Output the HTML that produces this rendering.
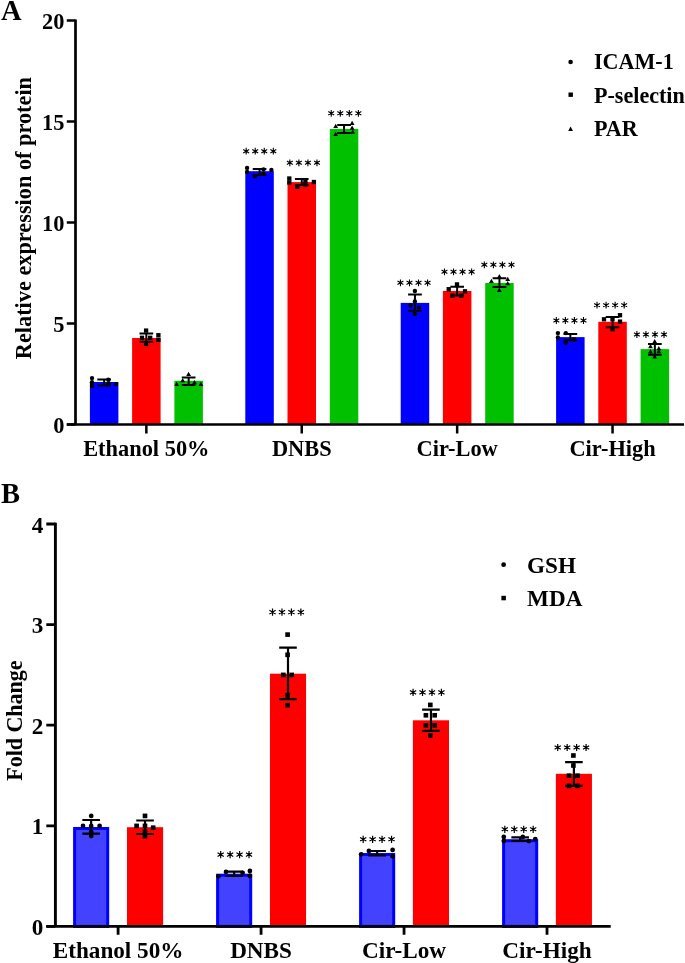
<!DOCTYPE html>
<html><head><meta charset="utf-8"><style>
html,body{margin:0;padding:0;background:#fff;}
svg{display:block;will-change:transform;}
</style></head><body>
<svg width="685" height="963" viewBox="0 0 685 963">
<rect width="685" height="963" fill="#fff"/>
<rect x="89.90" y="382.00" width="28.5" height="42.50" fill="#0000ff"/>
<rect x="132.10" y="338.00" width="28.5" height="86.50" fill="#ff0000"/>
<rect x="174.40" y="380.80" width="28.5" height="43.70" fill="#00c000"/>
<rect x="245.30" y="171.20" width="28.5" height="253.30" fill="#0000ff"/>
<rect x="287.50" y="182.10" width="28.5" height="242.40" fill="#ff0000"/>
<rect x="329.80" y="128.90" width="28.5" height="295.60" fill="#00c000"/>
<rect x="400.70" y="302.90" width="28.5" height="121.60" fill="#0000ff"/>
<rect x="442.90" y="291.00" width="28.5" height="133.50" fill="#ff0000"/>
<rect x="485.20" y="283.00" width="28.5" height="141.50" fill="#00c000"/>
<rect x="556.10" y="337.10" width="28.5" height="87.40" fill="#0000ff"/>
<rect x="598.30" y="321.80" width="28.5" height="102.70" fill="#ff0000"/>
<rect x="640.60" y="349.10" width="28.5" height="75.40" fill="#00c000"/>
<path d="M97.30,379.6H111.00M97.30,385.4H111.00M104.15,379.6V385.4M139.50,333.4H153.20M139.50,341.7H153.20M146.35,333.4V341.7M181.80,377.5H195.50M181.80,385.0H195.50M188.65,377.5V385.0M252.70,169.0H266.40M252.70,175.0H266.40M259.55,169.0V175.0M294.90,179.0H308.60M294.90,185.1H308.60M301.75,179.0V185.1M337.20,125.0H350.90M337.20,133.0H350.90M344.05,125.0V133.0M408.10,294.5H421.80M408.10,310.8H421.80M414.95,294.5V310.8M450.30,286.8H464.00M450.30,295.5H464.00M457.15,286.8V295.5M492.60,278.2H506.30M492.60,287.0H506.30M499.45,278.2V287.0M563.50,333.9H577.20M563.50,340.3H577.20M570.35,333.9V340.3M605.70,317.0H619.40M605.70,327.2H619.40M612.55,317.0V327.2M648.00,343.9H661.70M648.00,354.7H661.70M654.85,343.9V354.7" stroke="#000" stroke-width="2" fill="none"/>
<path d="M246.18,147.80L246.18,154.60M243.23,149.50L249.12,152.90M249.12,149.50L243.23,152.90M255.22,147.80L255.22,154.60M252.28,149.50L258.17,152.90M258.17,149.50L252.28,152.90M264.27,147.80L264.27,154.60M261.33,149.50L267.22,152.90M267.22,149.50L261.33,152.90M273.32,147.80L273.32,154.60M270.38,149.50L276.27,152.90M276.27,149.50L270.38,152.90M289.82,159.40L289.82,166.20M286.88,161.10L292.77,164.50M292.77,161.10L286.88,164.50M298.88,159.40L298.88,166.20M295.93,161.10L301.82,164.50M301.82,161.10L295.93,164.50M307.92,159.40L307.92,166.20M304.98,161.10L310.87,164.50M310.87,161.10L304.98,164.50M316.97,159.40L316.97,166.20M314.03,161.10L319.92,164.50M319.92,161.10L314.03,164.50M331.23,109.90L331.23,116.70M328.28,111.60L334.17,115.00M334.17,111.60L328.28,115.00M340.28,109.90L340.28,116.70M337.33,111.60L343.22,115.00M343.22,111.60L337.33,115.00M349.32,109.90L349.32,116.70M346.38,111.60L352.27,115.00M352.27,111.60L346.38,115.00M358.38,109.90L358.38,116.70M355.43,111.60L361.32,115.00M361.32,111.60L355.43,115.00M400.43,279.40L400.43,286.20M397.48,281.10L403.37,284.50M403.37,281.10L397.48,284.50M409.48,279.40L409.48,286.20M406.53,281.10L412.42,284.50M412.42,281.10L406.53,284.50M418.52,279.40L418.52,286.20M415.58,281.10L421.47,284.50M421.47,281.10L415.58,284.50M427.57,279.40L427.57,286.20M424.63,281.10L430.52,284.50M430.52,281.10L424.63,284.50M444.48,268.40L444.48,275.20M441.53,270.10L447.42,273.50M447.42,270.10L441.53,273.50M453.53,268.40L453.53,275.20M450.58,270.10L456.47,273.50M456.47,270.10L450.58,273.50M462.57,268.40L462.57,275.20M459.63,270.10L465.52,273.50M465.52,270.10L459.63,273.50M471.62,268.40L471.62,275.20M468.68,270.10L474.57,273.50M474.57,270.10L468.68,273.50M484.32,261.40L484.32,268.20M481.38,263.10L487.27,266.50M487.27,263.10L481.38,266.50M493.38,261.40L493.38,268.20M490.43,263.10L496.32,266.50M496.32,263.10L490.43,266.50M502.42,261.40L502.42,268.20M499.48,263.10L505.37,266.50M505.37,263.10L499.48,266.50M511.47,261.40L511.47,268.20M508.53,263.10L514.42,266.50M514.42,263.10L508.53,266.50M556.32,317.10L556.32,323.90M553.38,318.80L559.27,322.20M559.27,318.80L553.38,322.20M565.38,317.10L565.38,323.90M562.43,318.80L568.32,322.20M568.32,318.80L562.43,322.20M574.42,317.10L574.42,323.90M571.48,318.80L577.37,322.20M577.37,318.80L571.48,322.20M583.48,317.10L583.48,323.90M580.53,318.80L586.42,322.20M586.42,318.80L580.53,322.20M597.02,301.70L597.02,308.50M594.08,303.40L599.97,306.80M599.97,303.40L594.08,306.80M606.08,301.70L606.08,308.50M603.13,303.40L609.02,306.80M609.02,303.40L603.13,306.80M615.12,301.70L615.12,308.50M612.18,303.40L618.07,306.80M618.07,303.40L612.18,306.80M624.18,301.70L624.18,308.50M621.23,303.40L627.12,306.80M627.12,303.40L621.23,306.80M636.88,331.10L636.88,337.90M633.93,332.80L639.82,336.20M639.82,332.80L633.93,336.20M645.93,331.10L645.93,337.90M642.98,332.80L648.87,336.20M648.87,332.80L642.98,336.20M654.98,331.10L654.98,337.90M652.03,332.80L657.92,336.20M657.92,332.80L652.03,336.20M664.03,331.10L664.03,337.90M661.08,332.80L666.97,336.20M666.97,332.80L661.08,336.20" stroke="#000" stroke-width="1.1" fill="none"/>
<g fill="#000"><circle cx="246.18" cy="151.20" r="1.20"/><circle cx="255.22" cy="151.20" r="1.20"/><circle cx="264.27" cy="151.20" r="1.20"/><circle cx="273.32" cy="151.20" r="1.20"/><circle cx="289.82" cy="162.80" r="1.20"/><circle cx="298.88" cy="162.80" r="1.20"/><circle cx="307.92" cy="162.80" r="1.20"/><circle cx="316.97" cy="162.80" r="1.20"/><circle cx="331.23" cy="113.30" r="1.20"/><circle cx="340.28" cy="113.30" r="1.20"/><circle cx="349.32" cy="113.30" r="1.20"/><circle cx="358.38" cy="113.30" r="1.20"/><circle cx="400.43" cy="282.80" r="1.20"/><circle cx="409.48" cy="282.80" r="1.20"/><circle cx="418.52" cy="282.80" r="1.20"/><circle cx="427.57" cy="282.80" r="1.20"/><circle cx="444.48" cy="271.80" r="1.20"/><circle cx="453.53" cy="271.80" r="1.20"/><circle cx="462.57" cy="271.80" r="1.20"/><circle cx="471.62" cy="271.80" r="1.20"/><circle cx="484.32" cy="264.80" r="1.20"/><circle cx="493.38" cy="264.80" r="1.20"/><circle cx="502.42" cy="264.80" r="1.20"/><circle cx="511.47" cy="264.80" r="1.20"/><circle cx="556.32" cy="320.50" r="1.20"/><circle cx="565.38" cy="320.50" r="1.20"/><circle cx="574.42" cy="320.50" r="1.20"/><circle cx="583.48" cy="320.50" r="1.20"/><circle cx="597.02" cy="305.10" r="1.20"/><circle cx="606.08" cy="305.10" r="1.20"/><circle cx="615.12" cy="305.10" r="1.20"/><circle cx="624.18" cy="305.10" r="1.20"/><circle cx="636.88" cy="334.50" r="1.20"/><circle cx="645.93" cy="334.50" r="1.20"/><circle cx="654.98" cy="334.50" r="1.20"/><circle cx="664.03" cy="334.50" r="1.20"/></g>
<g fill="#000"><circle cx="92" cy="378.1" r="2.20"/><circle cx="92" cy="382.3" r="2.20"/><circle cx="92" cy="386" r="2.20"/><circle cx="116" cy="384.1" r="2.20"/><circle cx="108.3" cy="379.6" r="2.20"/><circle cx="108.6" cy="383.3" r="2.20"/><rect x="143.95" y="328.45" width="4.30" height="4.30"/><rect x="139.85" y="335.65" width="4.30" height="4.30"/><rect x="148.05" y="335.65" width="4.30" height="4.30"/><rect x="143.95" y="341.75" width="4.30" height="4.30"/><rect x="156.25" y="333.05" width="4.30" height="4.30"/><rect x="156.25" y="337.65" width="4.30" height="4.30"/><path d="M188.60,371.80L191.00,376.10H186.20Z"/><path d="M182.70,377.90L185.10,382.20H180.30Z"/><path d="M194.50,379.90L196.90,384.20H192.10Z"/><path d="M176.60,381.80L179.00,386.10H174.20Z"/><path d="M200.90,381.80L203.30,386.10H198.50Z"/><circle cx="247.1" cy="167.9" r="2.20"/><circle cx="247.1" cy="172" r="2.20"/><circle cx="271.4" cy="169.9" r="2.20"/><circle cx="255" cy="176.3" r="2.20"/><circle cx="263.5" cy="173.8" r="2.20"/><circle cx="263.5" cy="169.4" r="2.20"/><rect x="287.15" y="176.35" width="4.30" height="4.30"/><rect x="287.15" y="180.35" width="4.30" height="4.30"/><rect x="311.75" y="179.85" width="4.30" height="4.30"/><rect x="295.15" y="184.65" width="4.30" height="4.30"/><rect x="303.25" y="178.35" width="4.30" height="4.30"/><rect x="303.25" y="182.35" width="4.30" height="4.30"/><path d="M335.70,123.70L338.10,128.00H333.30Z"/><path d="M352.10,120.80L354.50,125.10H349.70Z"/><path d="M352.10,125.50L354.50,129.80H349.70Z"/><path d="M335.70,131.70L338.10,136.00H333.30Z"/><path d="M352.80,129.50L355.20,133.80H350.40Z"/><circle cx="414.9" cy="291" r="2.20"/><circle cx="414.9" cy="301.5" r="2.20"/><circle cx="410.5" cy="305.5" r="2.20"/><circle cx="418.9" cy="307.6" r="2.20"/><circle cx="414.9" cy="314" r="2.20"/><rect x="454.85" y="282.25" width="4.30" height="4.30"/><rect x="446.55" y="287.05" width="4.30" height="4.30"/><rect x="462.85" y="289.15" width="4.30" height="4.30"/><rect x="450.35" y="293.45" width="4.30" height="4.30"/><rect x="459.05" y="293.45" width="4.30" height="4.30"/><path d="M499.40,274.00L501.80,278.30H497.00Z"/><path d="M491.40,278.70L493.80,283.00H489.00Z"/><path d="M507.70,276.70L510.10,281.00H505.30Z"/><path d="M507.70,280.90L510.10,285.20H505.30Z"/><path d="M499.30,287.80L501.70,292.10H496.90Z"/><circle cx="557.9" cy="333.1" r="2.20"/><circle cx="557.9" cy="337.5" r="2.20"/><circle cx="565.8" cy="333.1" r="2.20"/><circle cx="565.8" cy="342.6" r="2.20"/><circle cx="574" cy="339.5" r="2.20"/><rect x="601.85" y="317.15" width="4.30" height="4.30"/><rect x="617.85" y="313.05" width="4.30" height="4.30"/><rect x="617.85" y="319.45" width="4.30" height="4.30"/><rect x="610.35" y="317.15" width="4.30" height="4.30"/><rect x="610.35" y="327.05" width="4.30" height="4.30"/><path d="M654.70,338.90L657.10,343.20H652.30Z"/><path d="M650.50,343.90L652.90,348.20H648.10Z"/><path d="M658.80,345.90L661.20,350.20H656.40Z"/><path d="M650.50,349.10L652.90,353.40H648.10Z"/><path d="M658.80,348.90L661.20,353.20H656.40Z"/><path d="M654.70,354.20L657.10,358.50H652.30Z"/></g>
<path d="M75.5,19.400000000000002V424.5M66.8,424.5H684" stroke="#000" stroke-width="2.7" fill="none"/>
<path d="M66.8,424.50H75.5M66.8,323.52H75.5M66.8,222.55H75.5M66.8,121.57H75.5M66.8,20.60H75.5M146.35,424.5V433.6M301.75,424.5V433.6M457.15,424.5V433.6M612.55,424.5V433.6" stroke="#000" stroke-width="2.5" fill="none"/>
<text x="64.5" y="432.70" text-anchor="end" font-size="22.4" font-family="Liberation Serif" font-weight="bold">0</text>
<text x="64.5" y="331.72" text-anchor="end" font-size="22.4" font-family="Liberation Serif" font-weight="bold">5</text>
<text x="64.5" y="230.75" text-anchor="end" font-size="22.4" font-family="Liberation Serif" font-weight="bold">10</text>
<text x="64.5" y="129.77" text-anchor="end" font-size="22.4" font-family="Liberation Serif" font-weight="bold">15</text>
<text x="64.5" y="28.80" text-anchor="end" font-size="22.4" font-family="Liberation Serif" font-weight="bold">20</text>
<text x="146.35" y="456.3" text-anchor="middle" font-size="22.4" font-family="Liberation Serif" font-weight="bold">Ethanol 50%</text>
<text x="301.75" y="456.3" text-anchor="middle" font-size="22.4" font-family="Liberation Serif" font-weight="bold">DNBS</text>
<text x="457.15" y="456.3" text-anchor="middle" font-size="22.4" font-family="Liberation Serif" font-weight="bold">Cir-Low</text>
<text x="612.55" y="456.3" text-anchor="middle" font-size="22.4" font-family="Liberation Serif" font-weight="bold">Cir-High</text>
<text transform="translate(30.8,218.1) rotate(-90)" text-anchor="middle" font-size="22.3" font-family="Liberation Serif" font-weight="bold">Relative expression of protein</text>
<text x="1" y="19.9" font-size="28.5" font-family="Liberation Serif" font-weight="bold">A</text>
<circle cx="570.6" cy="62" r="2.3" fill="#000"/>
<rect x="568.5" y="92.5" width="4.4" height="4.4" fill="#000"/>
<path d="M570.6,126.5L573,131H568.2Z" fill="#000"/>
<text x="594" y="69.3" font-size="22.1" font-family="Liberation Serif" font-weight="bold">ICAM-1</text>
<text x="594" y="102.8" font-size="22.1" font-family="Liberation Serif" font-weight="bold">P-selectin</text>
<text x="594" y="135.8" font-size="22.1" font-family="Liberation Serif" font-weight="bold">PAR</text>
<rect x="74.60" y="828.50" width="33.10" height="97.90" fill="#4242ff" stroke="#0000ff" stroke-width="3"/>
<rect x="127.00" y="827.20" width="36.10" height="99.20" fill="#ff0000"/>
<rect x="217.60" y="875.20" width="33.10" height="51.20" fill="#4242ff" stroke="#0000ff" stroke-width="3"/>
<rect x="269.95" y="673.70" width="36.10" height="252.70" fill="#ff0000"/>
<rect x="360.60" y="854.50" width="33.10" height="71.90" fill="#4242ff" stroke="#0000ff" stroke-width="3"/>
<rect x="412.90" y="720.30" width="36.10" height="206.10" fill="#ff0000"/>
<rect x="503.60" y="840.70" width="33.10" height="85.70" fill="#4242ff" stroke="#0000ff" stroke-width="3"/>
<rect x="555.85" y="773.80" width="36.10" height="152.60" fill="#ff0000"/>
<path d="M82.35,820.0H99.95M82.35,833.6H99.95M91.15,820.0V833.6M136.25,820.5H153.85M136.25,834.0H153.85M145.05,820.5V834.0M225.35,871.7H242.95M225.35,876.0H242.95M234.15,871.7V876.0M279.20,647.6H296.80M279.20,699.2H296.80M288.00,647.6V699.2M368.35,851.0H385.95M368.35,855.3H385.95M377.15,851.0V855.3M422.15,709.7H439.75M422.15,730.9H439.75M430.95,709.7V730.9M511.35,837.3H528.95M511.35,841.0H528.95M520.15,837.3V841.0M565.10,762.1H582.70M565.10,785.9H582.70M573.90,762.1V785.9" stroke="#000" stroke-width="2.2" fill="none"/>
<path d="M220.67,851.00L220.67,858.20M217.56,852.80L223.79,856.40M223.79,852.80L217.56,856.40M230.12,851.00L230.12,858.20M227.01,852.80L233.24,856.40M233.24,852.80L227.01,856.40M239.57,851.00L239.57,858.20M236.46,852.80L242.69,856.40M242.69,852.80L236.46,856.40M249.03,851.00L249.03,858.20M245.91,852.80L252.14,856.40M252.14,852.80L245.91,856.40M272.52,608.50L272.52,615.70M269.41,610.30L275.64,613.90M275.64,610.30L269.41,613.90M281.97,608.50L281.97,615.70M278.86,610.30L285.09,613.90M285.09,610.30L278.86,613.90M291.43,608.50L291.43,615.70M288.31,610.30L294.54,613.90M294.54,610.30L288.31,613.90M300.88,608.50L300.88,615.70M297.76,610.30L303.99,613.90M303.99,610.30L297.76,613.90M363.18,835.70L363.18,842.90M360.06,837.50L366.29,841.10M366.29,837.50L360.06,841.10M372.62,835.70L372.62,842.90M369.51,837.50L375.74,841.10M375.74,837.50L369.51,841.10M382.08,835.70L382.08,842.90M378.96,837.50L385.19,841.10M385.19,837.50L378.96,841.10M391.53,835.70L391.53,842.90M388.41,837.50L394.64,841.10M394.64,837.50L388.41,841.10M413.07,688.80L413.07,696.00M409.96,690.60L416.19,694.20M416.19,690.60L409.96,694.20M422.52,688.80L422.52,696.00M419.41,690.60L425.64,694.20M425.64,690.60L419.41,694.20M431.98,688.80L431.98,696.00M428.86,690.60L435.09,694.20M435.09,690.60L428.86,694.20M441.43,688.80L441.43,696.00M438.31,690.60L444.54,694.20M444.54,690.60L438.31,694.20M504.82,825.70L504.82,832.90M501.71,827.50L507.94,831.10M507.94,827.50L501.71,831.10M514.27,825.70L514.27,832.90M511.16,827.50L517.39,831.10M517.39,827.50L511.16,831.10M523.73,825.70L523.73,832.90M520.61,827.50L526.84,831.10M526.84,827.50L520.61,831.10M533.17,825.70L533.17,832.90M530.06,827.50L536.29,831.10M536.29,827.50L530.06,831.10M557.73,743.90L557.73,751.10M554.61,745.70L560.84,749.30M560.84,745.70L554.61,749.30M567.17,743.90L567.17,751.10M564.06,745.70L570.29,749.30M570.29,745.70L564.06,749.30M576.62,743.90L576.62,751.10M573.51,745.70L579.74,749.30M579.74,745.70L573.51,749.30M586.07,743.90L586.07,751.10M582.96,745.70L589.19,749.30M589.19,745.70L582.96,749.30" stroke="#000" stroke-width="1.2" fill="none"/>
<g fill="#000"><circle cx="220.67" cy="854.60" r="1.27"/><circle cx="230.12" cy="854.60" r="1.27"/><circle cx="239.57" cy="854.60" r="1.27"/><circle cx="249.03" cy="854.60" r="1.27"/><circle cx="272.52" cy="612.10" r="1.27"/><circle cx="281.97" cy="612.10" r="1.27"/><circle cx="291.43" cy="612.10" r="1.27"/><circle cx="300.88" cy="612.10" r="1.27"/><circle cx="363.18" cy="839.30" r="1.27"/><circle cx="372.62" cy="839.30" r="1.27"/><circle cx="382.08" cy="839.30" r="1.27"/><circle cx="391.53" cy="839.30" r="1.27"/><circle cx="413.07" cy="692.40" r="1.27"/><circle cx="422.52" cy="692.40" r="1.27"/><circle cx="431.98" cy="692.40" r="1.27"/><circle cx="441.43" cy="692.40" r="1.27"/><circle cx="504.82" cy="829.30" r="1.27"/><circle cx="514.27" cy="829.30" r="1.27"/><circle cx="523.73" cy="829.30" r="1.27"/><circle cx="533.17" cy="829.30" r="1.27"/><circle cx="557.73" cy="747.50" r="1.27"/><circle cx="567.17" cy="747.50" r="1.27"/><circle cx="576.62" cy="747.50" r="1.27"/><circle cx="586.07" cy="747.50" r="1.27"/></g>
<g fill="#000"><circle cx="91.2" cy="815.9" r="2.38"/><circle cx="83" cy="825.9" r="2.38"/><circle cx="91.2" cy="825.9" r="2.38"/><circle cx="99.6" cy="825.9" r="2.38"/><circle cx="91.2" cy="831.8" r="2.38"/><circle cx="91.2" cy="836.1" r="2.38"/><rect x="142.68" y="813.58" width="4.64" height="4.64"/><rect x="134.28" y="823.58" width="4.64" height="4.64"/><rect x="142.68" y="823.58" width="4.64" height="4.64"/><rect x="150.88" y="825.38" width="4.64" height="4.64"/><rect x="142.68" y="829.48" width="4.64" height="4.64"/><rect x="142.68" y="833.78" width="4.64" height="4.64"/><circle cx="218.4" cy="876.3" r="2.38"/><circle cx="226" cy="871.9" r="2.38"/><circle cx="249.9" cy="871" r="2.38"/><circle cx="249.9" cy="876" r="2.38"/><circle cx="242.6" cy="872.8" r="2.38"/><rect x="285.28" y="632.28" width="4.64" height="4.64"/><rect x="285.28" y="652.48" width="4.64" height="4.64"/><rect x="280.98" y="672.58" width="4.64" height="4.64"/><rect x="289.38" y="672.58" width="4.64" height="4.64"/><rect x="285.28" y="692.88" width="4.64" height="4.64"/><rect x="285.28" y="702.88" width="4.64" height="4.64"/><circle cx="361.2" cy="854.3" r="2.38"/><circle cx="368.9" cy="851" r="2.38"/><circle cx="392.6" cy="849.9" r="2.38"/><circle cx="392.6" cy="856.3" r="2.38"/><rect x="427.98" y="702.58" width="4.64" height="4.64"/><rect x="423.58" y="712.98" width="4.64" height="4.64"/><rect x="432.38" y="712.98" width="4.64" height="4.64"/><rect x="423.58" y="722.98" width="4.64" height="4.64"/><rect x="432.38" y="722.98" width="4.64" height="4.64"/><rect x="427.98" y="733.18" width="4.64" height="4.64"/><circle cx="503.8" cy="837" r="2.38"/><circle cx="503.8" cy="841.1" r="2.38"/><circle cx="535.3" cy="839.1" r="2.38"/><circle cx="528.9" cy="841.1" r="2.38"/><circle cx="522.8" cy="837" r="2.38"/><rect x="571.08" y="753.18" width="4.64" height="4.64"/><rect x="571.08" y="763.18" width="4.64" height="4.64"/><rect x="566.68" y="773.38" width="4.64" height="4.64"/><rect x="575.18" y="773.38" width="4.64" height="4.64"/><rect x="566.68" y="783.58" width="4.64" height="4.64"/><rect x="575.18" y="783.58" width="4.64" height="4.64"/></g>
<path d="M55.4,522.7V926.4M46.3,926.4H610.7" stroke="#000" stroke-width="2.9" fill="none"/>
<path d="M46.3,926.40H55.4M46.3,825.80H55.4M46.3,725.20H55.4M46.3,624.60H55.4M46.3,524.00H55.4M118.10,926.4V934.7M261.07,926.4V934.7M404.05,926.4V934.7M547.02,926.4V934.7" stroke="#000" stroke-width="2.8" fill="none"/>
<text x="43.4" y="934.90" text-anchor="end" font-size="23.2" font-family="Liberation Serif" font-weight="bold">0</text>
<text x="43.4" y="834.30" text-anchor="end" font-size="23.2" font-family="Liberation Serif" font-weight="bold">1</text>
<text x="43.4" y="733.70" text-anchor="end" font-size="23.2" font-family="Liberation Serif" font-weight="bold">2</text>
<text x="43.4" y="633.10" text-anchor="end" font-size="23.2" font-family="Liberation Serif" font-weight="bold">3</text>
<text x="43.4" y="532.50" text-anchor="end" font-size="23.2" font-family="Liberation Serif" font-weight="bold">4</text>
<text x="118.10" y="957.8" text-anchor="middle" font-size="23.2" font-family="Liberation Serif" font-weight="bold">Ethanol 50%</text>
<text x="261.07" y="957.8" text-anchor="middle" font-size="23.2" font-family="Liberation Serif" font-weight="bold">DNBS</text>
<text x="404.05" y="957.8" text-anchor="middle" font-size="23.2" font-family="Liberation Serif" font-weight="bold">Cir-Low</text>
<text x="547.02" y="957.8" text-anchor="middle" font-size="23.2" font-family="Liberation Serif" font-weight="bold">Cir-High</text>
<text transform="translate(21.8,720.6) rotate(-90) scale(0.917,1)" text-anchor="middle" font-size="24" font-family="Liberation Serif" font-weight="bold">Fold Change</text>
<text transform="translate(1,502.6) scale(1,1.05)" font-size="28.5" font-family="Liberation Serif" font-weight="bold">B</text>
<circle cx="503.6" cy="564.7" r="2.4" fill="#000"/>
<rect x="501.4" y="595.8" width="4.5" height="4.5" fill="#000"/>
<text x="527.0" y="572.5" font-size="23.2" font-family="Liberation Serif" font-weight="bold">GSH</text>
<text x="527.0" y="605.9" font-size="23.2" font-family="Liberation Serif" font-weight="bold">MDA</text>
</svg>
</body></html>
